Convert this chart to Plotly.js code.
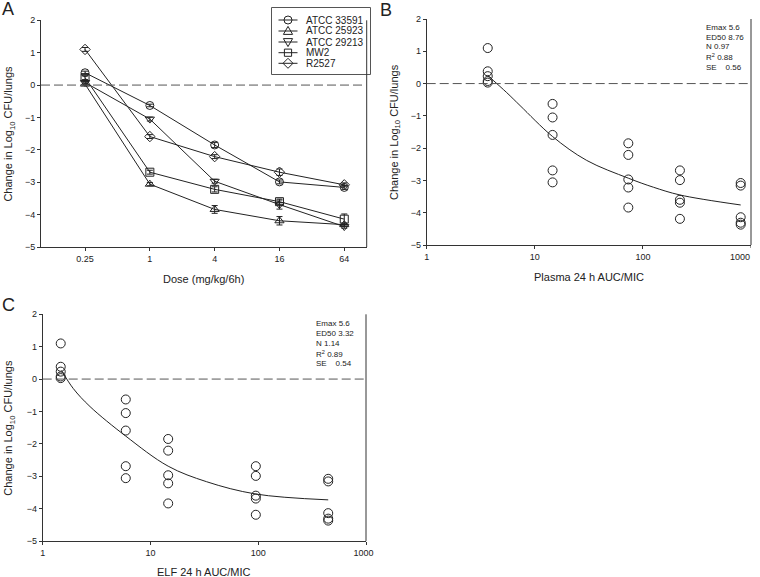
<!DOCTYPE html>
<html>
<head>
<meta charset="utf-8">
<script src="https://cdn.plot.ly/plotly-3.0.1.min.js"></script>
<style>html,body{margin:0;padding:0;background:#fff;}#chart{width:760px;height:577px;}</style>
</head>
<body>
<div id="chart"></div>
<script>
// ---------- data ----------
var doses = [0.25, 1, 4, 16, 64];
var strainNames = ['ATCC 33591', 'ATCC 25923', 'ATCC 29213', 'MW2', 'R2527'];
var atcc33591 = [0.38, -0.63, -1.85, -2.99, -3.16];
var atcc25923 = [0.03, -3.06, -3.84, -4.19, -4.31];
var atcc29213 = [0.08, -1.05, -2.97, -3.69, -4.37];
var mw2 = [0.23, -2.69, -3.22, -3.60, -4.14];
var r2527 = [1.10, -1.59, -2.21, -2.69, -3.08];
var err33591 = [0.05, 0.04, 0.08, 0.06, 0.06];
var err25923 = [0.03, 0.05, 0.12, 0.13, 0.05];
var err29213 = [0.05, 0.06, 0.06, 0.14, 0.05];
var errMW2 = [0.06, 0.06, 0.08, 0.08, 0.16];
var errR2527 = [0.06, 0.06, 0.06, 0.10, 0.06];

var plasmaAucMic = [3.67, 14.6, 73.3, 220, 803];
var elfAucMic = [1.47, 5.9, 14.6, 95, 446];

var plasmaFitX = [3.67, 5.5, 7.3, 14.6, 30.2, 73.3, 125, 220, 803];
var plasmaFitY = [0.25, -0.28, -0.68, -1.64, -2.38, -2.93, -3.21, -3.45, -3.76];
var elfFitX = [1.50, 1.92, 2.75, 5.89, 14.6, 33.2, 95.2, 446];
var elfFitY = [0.26, -0.29, -0.85, -1.76, -2.69, -3.17, -3.55, -3.73];

var logTickVals = [1, 10, 100, 1000];
var logTickText = ['1', '10', '100', '1000'];
var plasmaStats = ['Emax 5.6', 'ED50 8.76', 'N 0.97', 'R<sup>2</sup> 0.88', 'SE\u00a0\u00a0\u00a0 0.56'];
var elfStats = ['Emax 5.6', 'ED50 3.32', 'N 1.14', 'R<sup>2</sup> 0.89', 'SE\u00a0\u00a0\u00a0 0.54'];

// ---------- build ----------
var W = 760, H = 577;
function px(x) { return x / W; }
function py(y) { return 1 - y / H; }
var FONT = 'Liberation Sans, Arial, Helvetica, sans-serif';
var INK = '#222';

var seriesY = [atcc33591, atcc25923, atcc29213, mw2, r2527];
var seriesErr = [err33591, err25923, err29213, errMW2, errR2527];
var symbols = ['circle-open', 'triangle-up-open', 'triangle-down-open', 'square-open', 'diamond-open'];

var traces = [];
for (var i = 0; i < strainNames.length; i++) {
  traces.push({
    type: 'scatter', mode: 'lines+markers', name: strainNames[i],
    x: doses, y: seriesY[i], xaxis: 'x', yaxis: 'y', showlegend: false,
    line: {color: INK, width: 1},
    marker: {symbol: symbols[i], size: 8, color: INK, line: {width: 1, color: INK}},
    error_y: {type: 'data', array: seriesErr[i], visible: true, color: INK, thickness: 1, width: 3}
  });
}

var allX_B = [], allX_C = [], allY = [];
for (var s = 0; s < seriesY.length; s++) {
  for (var d = 0; d < doses.length; d++) {
    allX_B.push(plasmaAucMic[d]);
    allX_C.push(elfAucMic[d]);
    allY.push(seriesY[s][d]);
  }
}
traces.push({type: 'scatter', mode: 'lines', x: plasmaFitX, y: plasmaFitY, xaxis: 'x2', yaxis: 'y2',
  showlegend: false, line: {color: INK, width: 1, shape: 'spline', smoothing: 1}});
traces.push({type: 'scatter', mode: 'markers', x: allX_B, y: allY, xaxis: 'x2', yaxis: 'y2', showlegend: false,
  marker: {symbol: 'circle-open', size: 9, color: INK, line: {width: 1, color: INK}}});
traces.push({type: 'scatter', mode: 'lines', x: elfFitX, y: elfFitY, xaxis: 'x3', yaxis: 'y3',
  showlegend: false, line: {color: INK, width: 1, shape: 'spline', smoothing: 1}});
traces.push({type: 'scatter', mode: 'markers', x: allX_C, y: allY, xaxis: 'x3', yaxis: 'y3', showlegend: false,
  marker: {symbol: 'circle-open', size: 9, color: INK, line: {width: 1, color: INK}}});

function axisBase() {
  return {showline: true, linecolor: '#333', linewidth: 1, ticks: 'outside', ticklen: 3, tickcolor: '#333',
    tickwidth: 1, showgrid: false, zeroline: false, tickfont: {family: FONT, size: 9, color: INK}, mirror: false};
}
function yAxis(domain, anchor) {
  var a = axisBase();
  a.domain = domain; a.anchor = anchor; a.range = [-5, 2];
  a.tickvals = [-5, -4, -3, -2, -1, 0, 1, 2];
  return a;
}
var log4 = Math.log10(4);
var xA = axisBase();
xA.domain = [px(41), px(366.7)]; xA.anchor = 'y'; xA.type = 'log';
xA.range = [Math.log10(0.25) - 0.6795 * log4, Math.log10(64) + 0.346 * log4];
xA.tickvals = doses; xA.ticktext = doses.map(String);

var xB = axisBase();
xB.domain = [px(426.7), px(751)]; xB.anchor = 'y2'; xB.type = 'log'; xB.range = [0, 3];
xB.tickvals = logTickVals.slice(0, 3); xB.ticktext = logTickText.slice(0, 3);
var xC = axisBase();
xC.domain = [px(42.7), px(366)]; xC.anchor = 'y3'; xC.type = 'log'; xC.range = [0, 3];
xC.tickvals = logTickVals;
xC.ticktext = logTickText.map(function (t, k) { return k === logTickText.length - 1 ? t + '\u00a0\u00a0' : t; });

var layout = {
  width: W, height: H, margin: {l: 0, r: 0, t: 0, b: 0},
  paper_bgcolor: '#fff', plot_bgcolor: 'rgba(0,0,0,0)',
  font: {family: FONT, color: INK}, showlegend: false,
  xaxis: xA, yaxis: yAxis([py(247), py(20.3)], 'x'),
  xaxis2: xB, yaxis2: yAxis([py(245), py(19)], 'x2'),
  xaxis3: xC, yaxis3: yAxis([py(541), py(314.3)], 'x3'),
  shapes: [], annotations: []
};

function ann(text, x, y, opts) {
  var a = {text: text, xref: 'paper', yref: 'paper', x: px(x), y: py(y), showarrow: false,
    xanchor: 'center', yanchor: 'middle', font: {family: FONT, size: 11, color: INK}};
  for (var k in opts) a[k] = opts[k];
  layout.annotations.push(a);
}
function pathPx(points) {
  return points.map(function (p, k) { return (k ? 'L' : 'M') + px(p[0]) + ',' + py(p[1]); }).join(' ') + ' Z';
}

// ----- legend (box, sample lines, glyphs, labels) -----
var legendRowY = [20, 31, 42, 52.7, 63.3];
var lgX = 288;
layout.shapes.push({type: 'rect', xref: 'paper', yref: 'paper', x0: px(271.5), x1: px(370.5), y0: py(74.5), y1: py(7.5),
  line: {color: '#555', width: 1}, fillcolor: 'rgba(0,0,0,0)', layer: 'above'});
legendRowY.forEach(function (ry, k) {
  var ln = {color: INK, width: 1};
  layout.shapes.push({type: 'line', xref: 'paper', yref: 'paper', x0: px(lgX - 9.5), x1: px(lgX + 9.5), y0: py(ry), y1: py(ry), line: ln});
  var sym = symbols[k];
  if (sym === 'circle-open') {
    layout.shapes.push({type: 'circle', xref: 'paper', yref: 'paper', x0: px(lgX - 4), x1: px(lgX + 4), y0: py(ry + 4), y1: py(ry - 4), line: ln});
  } else if (sym === 'square-open') {
    layout.shapes.push({type: 'rect', xref: 'paper', yref: 'paper', x0: px(lgX - 3.6), x1: px(lgX + 3.6), y0: py(ry + 3.6), y1: py(ry - 3.6), line: ln});
  } else if (sym === 'triangle-up-open') {
    layout.shapes.push({type: 'path', xref: 'paper', yref: 'paper', line: ln,
      path: pathPx([[lgX, ry - 4.6], [lgX + 4.6, ry + 3.4], [lgX - 4.6, ry + 3.4]])});
  } else if (sym === 'triangle-down-open') {
    layout.shapes.push({type: 'path', xref: 'paper', yref: 'paper', line: ln,
      path: pathPx([[lgX, ry + 4.6], [lgX + 4.6, ry - 3.4], [lgX - 4.6, ry - 3.4]])});
  } else {
    layout.shapes.push({type: 'path', xref: 'paper', yref: 'paper', line: ln,
      path: pathPx([[lgX, ry - 5], [lgX + 5, ry], [lgX, ry + 5], [lgX - 5, ry]])});
  }
  ann(strainNames[k], 304, ry, {xanchor: 'left', font: {family: FONT, size: 10, color: INK}});
});

// right lines + dashed zero lines
[['x', 'y'], ['x2', 'y2'], ['x3', 'y3']].forEach(function (p) {
  layout.shapes.push({type: 'line', xref: p[0] + ' domain', yref: p[1] + ' domain', x0: 1, x1: 1, y0: 0, y1: 1,
    line: {color: '#333', width: 1}});
  layout.shapes.push({type: 'line', xref: p[0] + ' domain', yref: p[1], x0: 0, x1: 1, y0: 0, y1: 0,
    line: {color: '#555', width: 1, dash: '9px,4px'}});
});
// last tick of panel B x axis (label drawn as annotation so it stays inside the page)
layout.shapes.push({type: 'line', xref: 'x2', yref: 'y2 domain', x0: logTickVals[3], x1: logTickVals[3], y0: 0, y1: -3 / 226,
  line: {color: '#333', width: 1}});
layout.annotations.push({text: logTickText[3], xref: 'x2', yref: 'paper', x: Math.log10(logTickVals[3]), y: py(256.5),
  xanchor: 'right', yanchor: 'middle', xshift: 1, showarrow: false, font: {family: FONT, size: 9, color: INK}});

var ytitle = 'Change in Log<sub>10</sub> CFU/lungs';
ann(ytitle, 9, 133.6, {textangle: -90});
ann('Dose (mg/kg/6h)', 203.9, 279);
ann(ytitle, 395, 132, {textangle: -90});
ann('Plasma 24 h AUC/MIC', 588.9, 277);
ann(ytitle, 9, 427.7, {textangle: -90});
ann('ELF 24 h AUC/MIC', 204.4, 572);
ann('A', 7.5, 9, {font: {family: FONT, size: 18, color: INK}});
ann('B', 386, 10, {font: {family: FONT, size: 18, color: INK}});
ann('C', 8, 305, {font: {family: FONT, size: 18, color: INK}});
var statRowsB = [27, 37, 47, 57, 67];
var statRowsC = [323.5, 333.5, 343.5, 353.5, 363.5];
for (var r = 0; r < 5; r++) {
  ann(plasmaStats[r], 704, statRowsB[r], {xanchor: 'left', font: {family: FONT, size: 8, color: INK}});
  ann(elfStats[r], 314, statRowsC[r], {xanchor: 'left', font: {family: FONT, size: 8, color: INK}});
}

Plotly.newPlot('chart', traces, layout, {staticPlot: true, displayModeBar: false});
</script>
</body>
</html>
